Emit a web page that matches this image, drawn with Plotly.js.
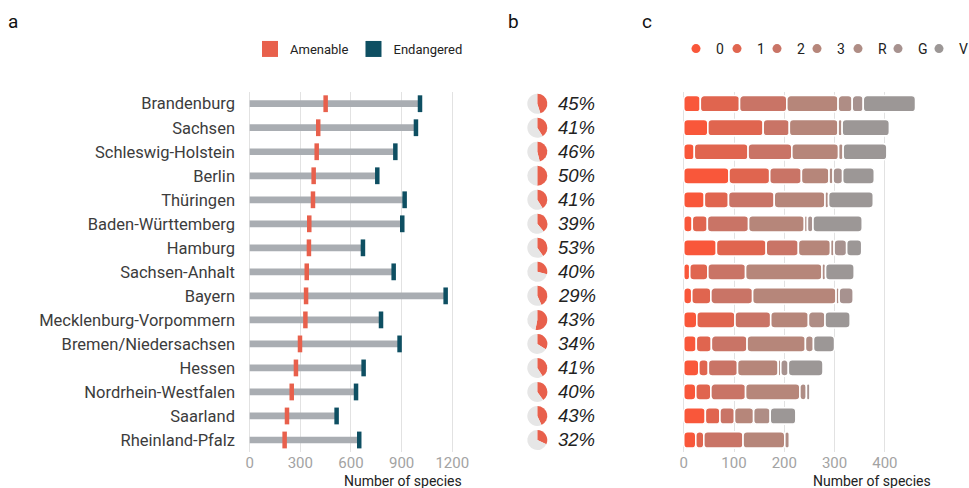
<!DOCTYPE html>
<html>
<head>
<meta charset="utf-8">
<script src="https://cdn.plot.ly/plotly-3.0.1.min.js"></script>
<style>html,body{margin:0;padding:0;background:#fff;}#chart{width:969px;height:488px;}</style>
</head>
<body>
<div id="chart"></div>
<script>
// ---------- data ----------
const states = ["Brandenburg","Sachsen","Schleswig-Holstein","Berlin","Thüringen","Baden-Württemberg","Hamburg","Sachsen-Anhalt","Bayern","Mecklenburg-Vorpommern","Bremen/Niedersachsen","Hessen","Nordrhein-Westfalen","Saarland","Rheinland-Pfalz"];
const amenable   = [450,406,397,379,375,353,351,338,334,330,298,274,249,221,207];
const endangered = [1009,985,863,756,918,904,671,853,1161,778,888,675,630,515,649];
const pctLabels  = [45,41,46,50,41,39,53,40,29,43,34,41,40,43,32];
const pieShare   = [45,41,46,50,41,39,40,29,43,53,34,41,40,43,32];
const xTicksA = [0,300,600,900,1200];
const xTicksC = [0,100,200,300,400];
const catNames = ["0","1","2","3","R","G","V"];
const c0 = [33,48,21,90,41,17,65,12,16,26,25,30,24,43,24];
const c1 = [78,110,107,81,48,30,99,36,38,76,30,19,30,29,16];
const c2 = [94,52,87,63,91,82,64,75,83,71,71,58,69,29,78];
const c3 = [102,97,93,55,101,111,64,152,166,75,116,81,108,38,83];
const cR = [28,8,9,8,7,6,7,7,6,33,16,5,13,33,9];
const cG = [22,0,0,19,0,11,25,0,28,0,0,15,7,0,0];
const cV = [104,94,87,63,89,98,30,57,0,50,42,69,0,51,0];
const catValues = [c0,c1,c2,c3,cR,cG,cV];

// ---------- styles ----------
const W = 969, H = 488;
const yTop = 91.7, yBot = 452;
const yDom = [(H - yBot) / H, (H - yTop) / H];
const catColors = ['#F9573A','#E0654F','#C97466','#B6867A','#AF8D85','#A7928F','#9C9796'];
const legendCX = [696, 737, 777, 817, 858, 898, 939];
const red = '#E8604C', teal = '#0E4F62', grey = '#A9ADB2';

const traces = [];
// panel a
traces.push({type:'bar', orientation:'h', y:states, x:endangered, base:0, width:0.28,
  marker:{color:grey, line:{width:0}}, showlegend:false, hoverinfo:'skip', xaxis:'x', yaxis:'y'});
traces.push({type:'scatter', mode:'markers', y:states, x:amenable, cliponaxis:false,
  marker:{symbol:'line-ns', size:12, color:red, line:{width:4.5, color:red}}, showlegend:false, hoverinfo:'skip'});
traces.push({type:'scatter', mode:'markers', y:states, x:endangered, cliponaxis:false,
  marker:{symbol:'line-ns', size:12, color:teal, line:{width:4.5, color:teal}}, showlegend:false, hoverinfo:'skip'});
// legend a
traces.push({type:'scatter', mode:'markers', x:[null], y:[null], name:'Amenable', legend:'legend',
  marker:{symbol:'square', size:17, color:red}});
traces.push({type:'scatter', mode:'markers', x:[null], y:[null], name:'Endangered', legend:'legend',
  marker:{symbol:'square', size:17, color:teal}});

// panel c: stacked segments with rounded ends and white separators
const starts = catValues.map(() => []);
for (let i = 0; i < states.length; i++) {
  let s = 0;
  for (let k = 0; k < catValues.length; k++) { starts[k][i] = s; s += catValues[k][i]; }
}
catValues.forEach((vals, k) => {
  traces.push({type:'bar', orientation:'h', xaxis:'x2', yaxis:'y', y:states, base:starts[k],
    x: vals.map(v => v > 0 ? v : null), width:0.68,
    marker:{color:catColors[k], cornerradius:4, line:{width:1.6, color:'#ffffff'}}, showlegend:false, hoverinfo:'skip'});
});
// legend c (one legend per entry for exact spacing)
catNames.forEach((n, k) => {
  traces.push({type:'scatter', mode:'markers', x:[null], y:[null], name:n, legend:'legend' + (k + 2),
    marker:{symbol:'circle', size:9, color:catColors[k]}});
});

// panel b: pies
const rowH = (yBot - yTop) / states.length;
states.forEach((s, i) => {
  const cy = yTop + (i + 0.5) * rowH;
  traces.push({type:'pie', values:[pieShare[i], 100 - pieShare[i]], sort:false, direction:'clockwise', rotation:0,
    marker:{colors:[red,'#E6E6E6'], line:{width:0}}, textinfo:'none', hoverinfo:'skip', showlegend:false,
    domain:{x:[527.3 / W, 547.3 / W], y:[(H - cy - 10) / H, (H - cy + 10) / H]}});
});

const annotations = [];
states.forEach((s, i) => {
  annotations.push({xref:'paper', yref:'y', x:556 / W, y:s, xanchor:'left', yanchor:'middle', showarrow:false,
    text: pctLabels[i] + '%', font:{family:'Liberation Sans, Arial, sans-serif', size:18.5, style:'italic', color:'#222'}});
});
annotations.push({xref:'paper', yref:'paper', x:403 / W, y:1 - 481 / H, xanchor:'center', yanchor:'middle', showarrow:false,
  text:'Number of species', font:{size:14, color:'#222'}});
annotations.push({xref:'paper', yref:'paper', x:872 / W, y:1 - 481 / H, xanchor:'center', yanchor:'middle', showarrow:false,
  text:'Number of species', font:{size:14, color:'#222'}});
[['a',13],['b',513],['c',647]].forEach(([t, x]) => {
  annotations.push({xref:'paper', yref:'paper', x:x / W, y:1 - 21 / H, xanchor:'center', yanchor:'middle', showarrow:false,
    text:t, font:{size:19, color:'#111'}});
});

const axisCommon = {showgrid:true, gridcolor:'#E2E2E2', gridwidth:1, zeroline:false, showline:false, ticks:'',
  tickfont:{size:15, color:'#A3A3A3'}, fixedrange:true};

const layout = {
  width:W, height:H, margin:{l:0, r:0, t:0, b:0, autoexpand:false}, paper_bgcolor:'#fff', plot_bgcolor:'rgba(0,0,0,0)',
  barmode:'overlay', font:{family:'Roboto, sans-serif', color:'#333'}, hovermode:false,
  xaxis: Object.assign({}, axisCommon, {domain:[248 / W, 457.3 / W], range:[-10, 1230], tickvals:xTicksA, anchor:'y'}),
  xaxis2: Object.assign({}, axisCommon, {domain:[682.2 / W, 925.1 / W], range:[-3, 480], tickvals:xTicksC, anchor:'y'}),
  yaxis: {domain:yDom, type:'category', categoryorder:'array', categoryarray:states, range:[14.5, -0.5],
    showgrid:false, zeroline:false, showline:false, ticks:'', ticklabelstandoff:12,
    tickfont:{size:16.5, color:'#3C3C3C'}, fixedrange:true},
  legend: {orientation:'h', x:250 / W, y:1 - 49 / H, xanchor:'left', yanchor:'middle', bgcolor:'rgba(0,0,0,0)',
    font:{size:13, color:'#222'}, itemclick:false, itemdoubleclick:false},
  annotations: annotations
};
catNames.forEach((n, k) => {
  layout['legend' + (k + 2)] = {orientation:'h', x:(legendCX[k] - 20) / W, y:1 - 49 / H, xanchor:'left', yanchor:'middle',
    bgcolor:'rgba(0,0,0,0)', font:{size:14, color:'#222'}, itemclick:false, itemdoubleclick:false};
});

Plotly.newPlot('chart', traces, layout, {displayModeBar:false, staticPlot:true});
</script>
</body>
</html>
